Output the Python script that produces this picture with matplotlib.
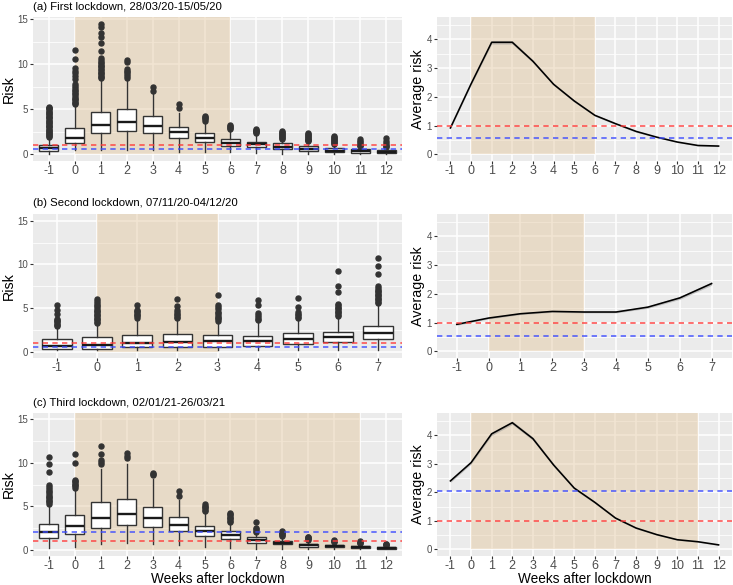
import matplotlib
matplotlib.use("Agg")
import matplotlib.pyplot as plt
from matplotlib.ticker import MultipleLocator, NullLocator
from matplotlib.patches import Rectangle

plt.rcParams['font.family'] = ['Liberation Sans', 'DejaVu Sans']

# ---------------- data ----------------
titles = ["(a) First lockdown, 28/03/20-15/05/20",
          "(b) Second lockdown, 07/11/20-04/12/20",
          "(c) Third lockdown, 02/01/21-26/03/21"]

a_weeks = [-1, 0, 1, 2, 3, 4, 5, 6, 7, 8, 9, 10, 11, 12]
b_weeks = [-1, 0, 1, 2, 3, 4, 5, 6, 7]
c_weeks = [-1, 0, 1, 2, 3, 4, 5, 6, 7, 8, 9, 10, 11, 12]

a_shade = (0, 6)
b_shade = (0, 3)
c_shade = (0, 11)

# reference (dashed) levels: red, blue
a_ref = (1.0, 0.57)
b_ref = (1.0, 0.55)
c_ref = (1.0, 2.05)

# box plot statistics, panel (a)
a_q1 = [0.41, 1.29, 2.33, 2.55, 2.36, 1.85, 1.40, 0.96, 0.78, 0.59, 0.37, 0.22, 0.18, 0.15]
a_med = [0.66, 1.85, 3.32, 3.55, 3.10, 2.44, 1.85, 1.29, 1.11, 0.85, 0.63, 0.41, 0.33, 0.28]
a_q3 = [1.02, 2.96, 4.73, 4.99, 4.29, 3.07, 2.36, 1.70, 1.40, 1.22, 0.92, 0.66, 0.55, 0.48]
a_lo = [0.10, 0.45, 0.50, 0.50, 0.50, 0.30, 0.30, 0.25, 0.15, 0.10, 0.05, 0.02, 0.02, 0.02]
a_hi = [1.85, 5.40, 8.30, 8.30, 6.80, 4.60, 3.50, 2.70, 2.25, 1.65, 1.35, 1.10, 0.85, 0.75]
a_out = [
    [1.95, 2.05, 2.15, 2.3, 2.4, 2.5, 2.6, 2.75, 2.85, 3.0, 3.1, 3.2, 3.35, 3.5, 3.6,
     3.7, 3.85, 4.0, 4.1, 4.2, 4.35, 4.5, 4.6, 4.75, 4.85, 5.0, 5.1, 5.2, 5.3],
    [5.55, 5.7, 5.85, 6.0, 6.15, 6.3, 6.5, 6.65, 6.8, 7.0, 7.2, 7.4, 7.6, 7.8,
     8.4, 8.7, 9.0, 9.25, 9.6, 10.55, 11.6],
    [8.45, 8.6, 8.75, 8.9, 9.05, 9.2, 9.35, 9.5, 9.65, 9.8, 9.95, 10.1, 10.3, 10.5,
     10.7, 11.5, 12.4, 13.0, 13.5, 14.1, 14.45],
    [8.5, 8.7, 8.9, 9.1, 9.3, 9.5, 10.25, 10.45],
    [7.05, 7.45],
    [5.1, 5.55],
    [3.75, 3.9, 4.05, 4.2, 4.3],
    [2.85, 2.95, 3.05, 3.15, 3.3],
    [2.35, 2.45, 2.55, 2.65, 2.75, 2.85],
    [1.75, 1.85, 1.95, 2.05, 2.15, 2.25, 2.35, 2.5, 2.6],
    [1.45, 1.55, 1.65, 1.75, 1.85, 1.95, 2.05, 2.15, 2.25, 2.35],
    [1.2, 1.3, 1.4, 1.5, 1.6, 1.7, 1.8, 1.9, 2.0],
    [0.9, 1.0, 1.1, 1.2, 1.35, 1.5, 1.75],
    [0.8, 0.95, 1.1, 1.25, 1.45, 1.8],
]

# box plot statistics, panel (b)
b_q1 = [0.27, 0.34, 0.50, 0.57, 0.57, 0.69, 0.84, 1.07, 1.42]
b_med = [0.60, 0.77, 0.96, 1.11, 1.19, 1.26, 1.42, 1.72, 2.10]
b_q3 = [1.42, 1.65, 1.95, 2.03, 1.91, 1.84, 2.10, 2.30, 2.98]
b_lo = [0.15, 0.15, 0.15, 0.15, 0.15, 0.15, 0.15, 0.15, 0.15]
b_hi = [2.80, 3.20, 3.80, 3.75, 3.40, 3.45, 3.75, 4.00, 5.50]
b_out = [
    [2.9, 3.05, 3.2, 3.35, 3.5, 3.65, 3.8, 4.3, 4.8, 5.3],
    [3.3, 3.45, 3.6, 3.75, 3.9, 4.05, 4.2, 4.35, 4.5, 4.65, 4.8, 5.0, 5.2, 5.4, 5.6, 5.8, 6.0],
    [3.9, 4.05, 4.2, 4.35, 4.5, 4.65, 4.8, 5.3],
    [3.85, 4.0, 4.15, 4.3, 4.5, 4.8, 5.2, 6.0],
    [3.55, 3.7, 3.85, 4.0, 4.2, 4.4, 4.6, 4.85, 5.1, 5.3, 6.45],
    [3.6, 3.8, 4.0, 4.2, 4.4, 5.35, 5.9],
    [3.85, 4.0, 4.15, 4.35, 4.5, 5.15, 6.1],
    [4.1, 4.25, 4.4, 4.55, 4.7, 4.85, 5.0, 5.15, 5.3, 5.45, 6.8, 7.5, 9.2],
    [5.6, 5.75, 5.9, 6.05, 6.2, 6.35, 6.5, 6.65, 6.8, 6.95, 7.1, 7.3, 7.5, 8.9, 9.85, 10.7],
]

# box plot statistics, panel (c)
c_q1 = [1.38, 1.84, 2.53, 2.88, 2.65, 2.15, 1.57, 1.19, 0.81, 0.60, 0.35, 0.25, 0.18, 0.10]
c_med = [2.07, 2.69, 3.68, 4.07, 3.68, 2.80, 2.15, 1.65, 1.11, 0.77, 0.50, 0.38, 0.28, 0.19]
c_q3 = [2.99, 3.95, 5.49, 5.87, 4.91, 3.76, 2.69, 2.15, 1.46, 1.00, 0.69, 0.54, 0.42, 0.30]
c_lo = [0.15, 0.30, 0.60, 0.80, 0.70, 0.50, 0.30, 0.15, 0.10, 0.10, 0.05, 0.05, 0.03, 0.02]
c_hi = [5.20, 7.00, 9.30, 9.90, 8.10, 5.70, 4.30, 3.05, 1.95, 1.50, 1.05, 0.82, 0.65, 0.45]
c_out = [
    [5.3, 5.45, 5.6, 5.75, 5.9, 6.05, 6.2, 6.4, 6.6, 6.8, 7.0, 7.2, 7.4, 8.9, 9.85, 10.7],
    [7.15, 7.3, 7.45, 7.6, 7.75, 7.9, 8.05, 10.0, 11.05],
    [9.9, 10.1, 10.35, 11.05, 11.9],
    [10.5, 10.8, 11.1],
    [8.55, 8.7, 8.85],
    [6.15, 6.75],
    [4.45, 4.6, 4.75, 4.9, 5.05, 5.2],
    [3.2, 3.35, 3.5, 3.65, 3.8, 3.95, 4.1, 4.25],
    [2.05, 2.2, 2.35, 2.5, 3.15],
    [1.6, 1.7, 1.8, 1.9, 2.0, 2.1],
    [1.1, 1.2, 1.3, 1.4, 1.5],
    [0.88, 0.95, 1.05, 1.15],
    [0.72, 0.8, 0.88, 0.96],
    [0.5, 0.58, 0.65, 0.7],
]

# average risk (right panels) and half-width of the grey band
a_avg = [0.92, 2.45, 3.90, 3.90, 3.24, 2.44, 1.86, 1.36, 1.07, 0.80, 0.60, 0.43, 0.31, 0.29]
a_band = [0.03, 0.04, 0.06, 0.06, 0.05, 0.04, 0.04, 0.03, 0.03, 0.03, 0.02, 0.02, 0.02, 0.02]
b_avg = [0.94, 1.16, 1.31, 1.39, 1.37, 1.37, 1.54, 1.86, 2.36]
b_band = [0.03, 0.03, 0.03, 0.03, 0.03, 0.03, 0.04, 0.05, 0.06]
c_avg = [2.40, 3.04, 4.05, 4.44, 3.88, 2.96, 2.15, 1.65, 1.10, 0.75, 0.52, 0.34, 0.27, 0.16]
c_band = [0.05, 0.05, 0.06, 0.06, 0.06, 0.05, 0.04, 0.04, 0.03, 0.03, 0.02, 0.02, 0.02, 0.02]

# ---------------- styling ----------------
PANEL_BG = '#EBEBEB'
SHADE = '#E2C396'
TICK_C = '#4D4D4D'
RED = '#FF3B3B'
BLUE = '#3B4BFF'

W, H = 733, 585
fig = plt.figure(figsize=(W / 100, H / 100), dpi=100)


def rect_px(x0, y0, x1, y1):
    return [x0 / W, 1 - y1 / H, (x1 - x0) / W, (y1 - y0) / H]


def base_style(ax):
    ax.set_facecolor(PANEL_BG)
    for s in ax.spines.values():
        s.set_visible(False)
    ax.set_axisbelow(True)
    ax.grid(which='major', color='white', lw=1.1)
    ax.grid(which='minor', axis='y', color='white', lw=0.55)
    ax.tick_params(which='major', length=2.3, width=0.8, color='#333333', direction='out')
    ax.tick_params(which='minor', length=0)
    ax.tick_params(axis='y', labelsize=7, labelcolor=TICK_C, pad=1.3)
    ax.tick_params(axis='x', labelsize=9, labelcolor=TICK_C, pad=0.9)


def draw_refs(ax, ref):
    ax.axhline(ref[0], color=RED, ls=(0, (3.2, 2.6)), lw=1.2, alpha=0.85, zorder=5)
    ax.axhline(ref[1], color=BLUE, ls=(0, (3.2, 2.6)), lw=1.2, alpha=0.85, zorder=5)


def add_shade(ax, shade):
    ax.add_patch(Rectangle((shade[0], 0), shade[1] - shade[0], 100,
                           facecolor=SHADE, alpha=0.42, edgecolor='none', zorder=1))


def box_panel(ax, weeks, q1, med, q3, lo, hi, out, shade, ref, ylim):
    base_style(ax)
    add_shade(ax, shade)
    stats = [dict(q1=a, med=m, q3=b, whislo=l, whishi=h, fliers=o)
             for a, m, b, l, h, o in zip(q1, med, q3, lo, hi, out)]
    ax.bxp(stats, positions=weeks, widths=0.74, showcaps=False, patch_artist=True,
           manage_ticks=False, zorder=3,
           boxprops=dict(facecolor='white', edgecolor='#333333', lw=1.0),
           medianprops=dict(color='#1A1A1A', lw=1.7),
           whiskerprops=dict(color='#333333', lw=1.0),
           flierprops=dict(marker='o', markerfacecolor='#333333',
                           markeredgecolor='#333333', markersize=3.6, lw=0))
    draw_refs(ax, ref)
    ax.set_xlim(weeks[0] - 0.6, weeks[-1] + 0.6)
    ax.set_ylim(*ylim)
    ax.set_xticks(weeks)
    ax.set_xticklabels([str(w) for w in weeks])
    ax.set_yticks([0, 5, 10, 15])
    ax.yaxis.set_minor_locator(MultipleLocator(2.5))
    ax.xaxis.set_minor_locator(NullLocator())


def line_panel(ax, weeks, avg, band, shade, ref, xlim):
    base_style(ax)
    add_shade(ax, shade)
    lower = [v - b for v, b in zip(avg, band)]
    upper = [v + b for v, b in zip(avg, band)]
    ax.fill_between(weeks, lower, upper, color='#8C8C8C', alpha=0.45, lw=0, zorder=2)
    ax.plot(weeks, avg, color='black', lw=1.15, zorder=3)
    draw_refs(ax, ref)
    ax.set_xlim(*xlim)
    ax.set_ylim(-0.23, 4.78)
    ax.set_xticks(weeks)
    ax.set_xticklabels([str(w) for w in weeks])
    ax.set_yticks([0, 1, 2, 3, 4])
    ax.yaxis.set_minor_locator(MultipleLocator(0.5))
    ax.xaxis.set_minor_locator(NullLocator())


rows = [(17, 161), (214, 358), (413, 556)]
title_y = [7, 203.5, 403]
LX0, LX1 = 33, 402
RX0, RX1 = 437, 732

axL = [fig.add_axes(rect_px(LX0, r[0], LX1, r[1])) for r in rows]
axR = [fig.add_axes(rect_px(RX0, r[0], RX1, r[1])) for r in rows]

box_panel(axL[0], a_weeks, a_q1, a_med, a_q3, a_lo, a_hi, a_out, a_shade, a_ref, (-0.73, 15.25))
box_panel(axL[1], b_weeks, b_q1, b_med, b_q3, b_lo, b_hi, b_out, b_shade, b_ref, (-0.72, 15.78))
box_panel(axL[2], c_weeks, c_q1, c_med, c_q3, c_lo, c_hi, c_out, c_shade, c_ref, (-0.73, 15.73))

line_panel(axR[0], a_weeks, a_avg, a_band, a_shade, a_ref, (-1.65, 12.65))
line_panel(axR[1], b_weeks, b_avg, b_band, b_shade, b_ref, (-1.62, 7.64))
line_panel(axR[2], c_weeks, c_avg, c_band, c_shade, c_ref, (-1.65, 12.65))

for t, ty in zip(titles, title_y):
    fig.text(LX0 / W, 1 - ty / H, t, fontsize=8.2, ha='left', va='center', color='black')

for r in rows:
    yc = 1 - (r[0] + r[1]) / 2 / H
    fig.text(8.5 / W, yc, 'Risk', fontsize=10.3, rotation=90, ha='center', va='center')
    fig.text(418 / W, yc, 'Average risk', fontsize=10.3, rotation=90, ha='center', va='center')

fig.text((LX0 + LX1) / 2 / W, 1 - 583 / H, 'Weeks after lockdown', fontsize=9.8,
         ha='center', va='baseline')
fig.text((RX0 + RX1) / 2 / W, 1 - 583 / H, 'Weeks after lockdown', fontsize=9.8,
         ha='center', va='baseline')

fig.savefig('out.png', dpi=100)
